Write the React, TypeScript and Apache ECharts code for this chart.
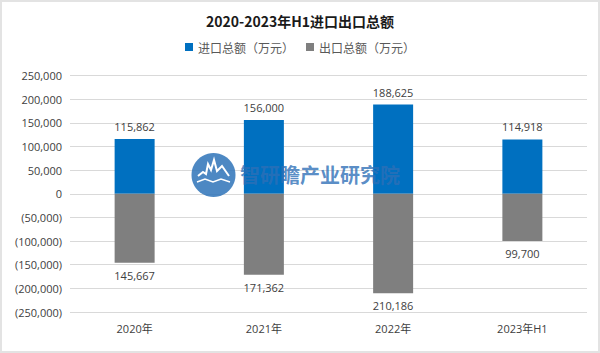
import React, { useEffect, useRef } from "react";
import * as echarts from "echarts";

const categories = ["2020年", "2021年", "2022年", "2023年H1"];
const importTotals = [115862, 156000, 188625, 114918];
const exportTotals = [-145667, -171362, -210186, -99700];
const seriesNames = ["进口总额（万元）", "出口总额（万元）"];
const titleText = "2020-2023年H1进口出口总额";
const watermarkText = "智研瞻产业研究院";

const fmt = (v: number) => Math.abs(v).toLocaleString("en-US");
const axisFmt = (v: number) => (v < 0 ? "(" + fmt(v) + ")" : fmt(v));

export default function App() {
  const ref = useRef<HTMLDivElement>(null);
  useEffect(() => {
    if (!ref.current) return;
    const chart = echarts.init(ref.current, null, { renderer: "svg" });
    const font = "'Open Sans', 'Noto Sans CJK SC', sans-serif";
    chart.setOption({
      animation: false,
      backgroundColor: "#ffffff",
      textStyle: { fontFamily: font },
      title: {
        text: titleText,
        left: "center",
        top: 7,
        textStyle: { fontSize: 14, fontWeight: "bold", color: "#1a1a1a", fontFamily: "'Noto Sans CJK SC', sans-serif" },
      },
      legend: {
        top: 34,
        left: "center",
        itemWidth: 8,
        itemHeight: 8,
        itemGap: 12,
        icon: "rect",
        textStyle: { fontSize: 12, color: "#595959", fontFamily: "'Noto Sans CJK SC', sans-serif" },
        data: seriesNames,
      },
      grid: { left: 68, right: 11, top: 73.5, bottom: 39, containLabel: false },
      xAxis: {
        type: "category",
        data: categories,
        axisLine: { show: false },
        axisTick: { show: false },
        axisLabel: { color: "#404040", fontSize: 11, margin: 11 },
      },
      yAxis: {
        type: "value",
        min: -250000,
        max: 250000,
        interval: 50000,
        axisLabel: { color: "#404040", fontSize: 11, formatter: axisFmt, margin: 8 },
        splitLine: { lineStyle: { color: "#d9d9d9", width: 1 } },
        axisLine: { show: false },
        axisTick: { show: false },
      },
      series: [
        {
          name: seriesNames[0],
          type: "bar",
          stack: "total",
          barWidth: 40,
          data: importTotals,
          itemStyle: { color: "#0070c0" },
          label: { show: true, position: "top", formatter: (p: any) => fmt(p.value), color: "#404040", fontSize: 11, distance: 7 },
        },
        {
          name: seriesNames[1],
          type: "bar",
          stack: "total",
          barWidth: 40,
          data: exportTotals,
          itemStyle: { color: "#7f7f7f" },
          label: { show: true, position: "bottom", formatter: (p: any) => fmt(p.value), color: "#404040", fontSize: 11, distance: 7 },
        },
      ],
      graphic: [
        {
          type: "circle",
          shape: { cx: 211.5, cy: 173, r: 22 },
          style: { fill: "#2e73b8", opacity: 0.85 },
          z: 100,
        },
        {
          type: "polyline",
          shape: { points: [[196, 174], [201, 170], [204, 172], [206, 162], [209, 168], [212, 158], [215, 169], [220, 164], [227, 174]] },
          style: { stroke: "#ffffff", lineWidth: 2, fill: "none" },
          z: 101,
        },
        {
          type: "polyline",
          shape: { points: [[195, 180], [203, 177], [211, 180], [219, 177], [228, 180]] },
          style: { stroke: "#ffffff", lineWidth: 1.5, fill: "none" },
          z: 101,
        },
        {
          type: "text",
          x: 238,
          y: 172,
          style: { text: watermarkText, fontSize: 20, fontWeight: "bold", fill: "#2e6fb7", opacity: 0.8, verticalAlign: "middle", fontFamily: "'Noto Sans CJK SC', sans-serif" },
          z: 100,
        },
      ],
    });
    return () => chart.dispose();
  }, []);
  return (
    <div style={{ position: "fixed", left: 0, top: 0, width: 600, height: 353, boxSizing: "border-box", border: "2px solid #e3e3e3", background: "#fff" }}>
      <div ref={ref} style={{ width: 596, height: 349 }} />
    </div>
  );
}
